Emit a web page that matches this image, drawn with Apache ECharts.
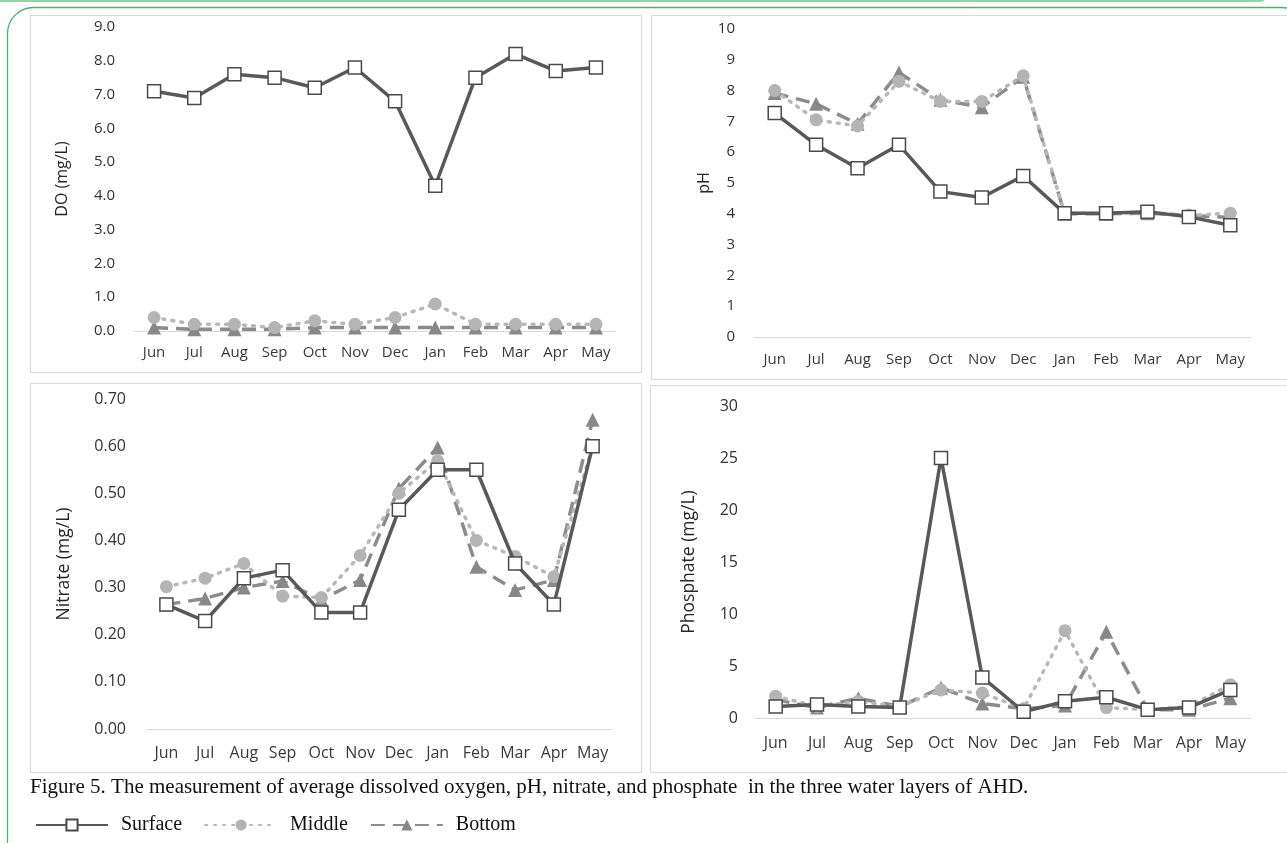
<!DOCTYPE html>
<html>
<head>
<meta charset="utf-8">
<title>Water layers of AHD</title>
<script src="https://cdn.jsdelivr.net/npm/echarts@6/dist/echarts.min.js"></script>
<style>
  html, body { margin: 0; padding: 0; background: #ffffff; }
  #chart { width: 1287px; height: 843px; }
</style>
</head>
<body>
<div id="chart"></div>
<script>
// Months of the sampling year
const months = ['Jun', 'Jul', 'Aug', 'Sep', 'Oct', 'Nov', 'Dec', 'Jan', 'Feb', 'Mar', 'Apr', 'May'];
const layerNames = ['Surface', 'Middle', 'Bottom'];

// Dissolved oxygen (mg/L)
const doSurface = [7.1, 6.9, 7.6, 7.5, 7.2, 7.8, 6.8, 4.3, 7.5, 8.2, 7.7, 7.8];
const doMiddle  = [0.4, 0.2, 0.2, 0.1, 0.3, 0.2, 0.4, 0.8, 0.2, 0.2, 0.2, 0.2];
const doBottom  = [0.1, 0.05, 0.05, 0.05, 0.1, 0.1, 0.1, 0.1, 0.1, 0.1, 0.1, 0.1];

// pH
const phSurface = [7.27, 6.24, 5.48, 6.24, 4.72, 4.53, 5.23, 4.02, 4.02, 4.07, 3.9, 3.63];
const phMiddle  = [8.0, 7.05, 6.85, 8.3, 7.65, 7.65, 8.48, 4.02, 4.02, 4.05, 3.95, 4.02];
const phBottom  = [7.92, 7.57, 6.92, 8.59, 7.7, 7.46, 8.45, 4.0, 4.0, 4.02, 3.95, 3.88];

// Nitrate (mg/L)
const no3Surface = [0.264, 0.229, 0.32, 0.337, 0.247, 0.247, 0.465, 0.55, 0.55, 0.351, 0.264, 0.60];
const no3Middle  = [0.302, 0.32, 0.351, 0.282, 0.279, 0.368, 0.50, 0.569, 0.40, 0.366, 0.323, 0.60];
const no3Bottom  = [0.264, 0.277, 0.30, 0.314, 0.274, 0.316, 0.51, 0.597, 0.344, 0.295, 0.316, 0.656];

// Phosphate (mg/L)
const po4Surface = [1.1, 1.3, 1.1, 1.0, 25.0, 3.9, 0.6, 1.6, 2.0, 0.8, 1.0, 2.7];
const po4Middle  = [2.1, 1.1, 1.6, 1.1, 2.7, 2.4, 0.9, 8.4, 1.0, 0.8, 1.1, 3.2];
const po4Bottom  = [1.75, 1.0, 1.9, 1.1, 2.9, 1.4, 0.9, 1.2, 8.3, 0.8, 0.8, 1.9];

// Axis scales
const doAxis  = { title: 'DO (mg/L)',        min: 0, max: 9,   interval: 1,   digits: 1 };
const phAxis  = { title: 'pH',               min: 0, max: 10,  interval: 1,   digits: 0 };
const no3Axis = { title: 'Nitrate (mg/L)',   min: 0, max: 0.7, interval: 0.1, digits: 2 };
const po4Axis = { title: 'Phosphate (mg/L)', min: 0, max: 30,  interval: 5,   digits: 0 };

const panels = [
  { axis: doAxis,  layers: [doSurface, doMiddle, doBottom] },
  { axis: phAxis,  layers: [phSurface, phMiddle, phBottom] },
  { axis: no3Axis, layers: [no3Surface, no3Middle, no3Bottom] },
  { axis: po4Axis, layers: [po4Surface, po4Middle, po4Bottom] }
];

// Plot areas, label spacing and font sizes for the 2x2 layout
const layout = [
  { grid: { left: 134, top: 27,  width: 482, height: 304 }, yMargin: 19, xMargin: 14, nameGap: 64, tick: 15, title: 16 },
  { grid: { left: 754, top: 29,  width: 497, height: 308 }, yMargin: 19, xMargin: 15, nameGap: 42, tick: 15, title: 16 },
  { grid: { left: 147, top: 399, width: 465, height: 330 }, yMargin: 21, xMargin: 16, nameGap: 74, tick: 16, title: 17.5 },
  { grid: { left: 755, top: 406, width: 496, height: 312 }, yMargin: 17, xMargin: 17, nameGap: 57, tick: 16, title: 17.5 }
];

// Panel frames
const frames = [
  { x: 30,  y: 15,  w: 611, h: 357 },
  { x: 651, y: 15,  w: 640, h: 364 },
  { x: 30,  y: 383, w: 611, h: 389 },
  { x: 650, y: 385, w: 640, h: 387 }
];

const axisFont = 'Open Sans';
const serifFont = 'Liberation Serif';

const layerStyles = [
  {
    symbol: 'rect', symbolSize: 13,
    lineStyle: { color: '#595959', width: 3.5, type: 'solid' },
    itemStyle: { color: '#ffffff', borderColor: '#4a4a4a', borderWidth: 1.5 }
  },
  {
    symbol: 'circle', symbolSize: 13,
    lineStyle: { color: '#b8b8b8', width: 3.5, type: [2, 7], cap: 'round' },
    itemStyle: { color: '#b4b4b4', borderWidth: 0 }
  },
  {
    symbol: 'triangle', symbolSize: 14,
    lineStyle: { color: '#8c8c8c', width: 3.5, type: [14, 8] },
    itemStyle: { color: '#888888', borderWidth: 0 }
  }
];

const grids = [], xAxes = [], yAxes = [], series = [];

panels.forEach((p, i) => {
  const L = layout[i];
  grids.push(Object.assign({ containLabel: false }, L.grid));
  xAxes.push({
    type: 'category', gridIndex: i, data: months, boundaryGap: true,
    axisLine: { show: true, lineStyle: { color: '#d9d9d9', width: 1 } },
    axisTick: { show: false },
    axisLabel: { color: '#3a3a3a', fontFamily: axisFont, fontSize: L.tick, margin: L.xMargin, interval: 0 },
    splitLine: { show: false }
  });
  yAxes.push({
    type: 'value', gridIndex: i,
    min: p.axis.min, max: p.axis.max, interval: p.axis.interval,
    name: p.axis.title, nameLocation: 'middle', nameGap: L.nameGap, nameRotate: 90,
    nameTextStyle: { color: '#262626', fontFamily: axisFont, fontSize: L.title },
    axisLine: { show: false }, axisTick: { show: false },
    splitLine: { show: false },
    axisLabel: {
      color: '#333333', fontFamily: axisFont, fontSize: L.tick, margin: L.yMargin,
      formatter: v => v.toFixed(p.axis.digits)
    }
  });
  // draw bottom layer first so the surface line sits on top
  [2, 1, 0].forEach(k => {
    const s = layerStyles[k];
    series.push({
      name: layerNames[k], type: 'line', xAxisIndex: i, yAxisIndex: i,
      data: p.layers[k],
      symbol: s.symbol, symbolSize: s.symbolSize,
      lineStyle: s.lineStyle, itemStyle: s.itemStyle,
      z: 3 + (2 - k), showAllSymbol: true, silent: true
    });
  });
});

const graphics = [
  // light green band along the top edge
  { type: 'rect', shape: { x: -30, y: -20, width: 1300, height: 22, r: 12 },
    style: { fill: '#8dd6a8' }, silent: true },
  // rounded green page border
  { type: 'rect', shape: { x: 7.5, y: 7.5, width: 1300, height: 860, r: 26 },
    style: { fill: 'none', stroke: '#3cb96d', lineWidth: 1.3 }, silent: true },
  // caption
  { type: 'text', left: 30, top: 777,
    style: {
      text: 'Figure 5. The measurement of average dissolved oxygen, pH, nitrate, and phosphate  in the three water layers of AHD.',
      font: '21px "' + serifFont + '"', fill: '#111111'
    }, silent: true }
];
frames.forEach(f => {
  graphics.push({
    type: 'rect', shape: { x: f.x + 0.5, y: f.y + 0.5, width: f.w, height: f.h },
    style: { fill: 'none', stroke: '#d9d9d9', lineWidth: 1 }, silent: true
  });
});

const chart = echarts.init(document.getElementById('chart'), null, { renderer: 'canvas' });
chart.setOption({
  animation: false,
  backgroundColor: '#ffffff',
  grid: grids,
  xAxis: xAxes,
  yAxis: yAxes,
  series: series,
  graphic: graphics,
  legend: {
    data: layerNames,
    left: 30, top: 810,
    orient: 'horizontal',
    itemWidth: 72, itemHeight: 14, itemGap: 22,
    selectedMode: false,
    textStyle: { fontFamily: serifFont, fontSize: 20, color: '#111111', padding: [0, 0, 0, 8] }
  }
});
</script>
</body>
</html>
